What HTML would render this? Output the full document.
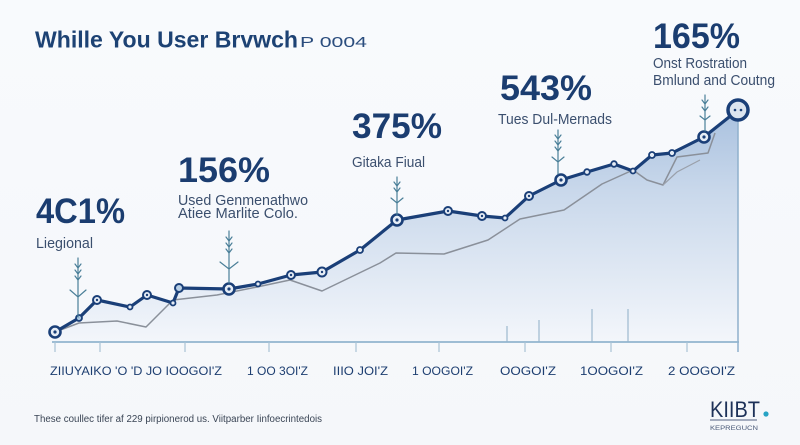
<!DOCTYPE html>
<html>
<head>
<meta charset="utf-8">
<style>
html,body{margin:0;padding:0;background:#f7f9fc;}
svg{display:block;}
text{font-family:"Liberation Sans",sans-serif;}
</style>
</head>
<body>
<svg width="800" height="445" viewBox="0 0 800 445" xmlns="http://www.w3.org/2000/svg">
<defs>
  <linearGradient id="fillg" gradientUnits="userSpaceOnUse" x1="0" y1="110" x2="0" y2="342">
    <stop offset="0" stop-color="#a9c1df"/>
    <stop offset="0.35" stop-color="#c9d8eb"/>
    <stop offset="1" stop-color="#f3f6fb"/>
  </linearGradient>
  <linearGradient id="bg" x1="0" y1="0" x2="0" y2="1">
    <stop offset="0" stop-color="#f8fafd"/>
    <stop offset="1" stop-color="#f5f7fa"/>
  </linearGradient>
</defs>
<rect width="800" height="445" fill="url(#bg)"/>

<!-- Title -->
<text x="35" y="47.5" font-size="23.5" font-weight="bold" fill="#1d4274" textLength="263" lengthAdjust="spacingAndGlyphs">Whille You User Brvwch</text>
<text x="300" y="47" font-size="15" fill="#2b4d7e" textLength="67" lengthAdjust="spacingAndGlyphs">P 0004</text>

<!-- Area fill -->
<path d="M55,332 L79,318 L97,300 L130,307 L147,295 L173,303 L179,288 L229,289 L258,284 L291,275 L322,272 L360,250 L397,220 L448,211 L482,216 L505,218 L529,196 L561,180 L587,172 L614,164 L633,171 L652,155 L672,153 L704,137 L738,110 L738,342 L55,342 Z" fill="url(#fillg)"/>

<!-- right edge line -->
<line x1="738" y1="110" x2="738" y2="352" stroke="#8fb0cc" stroke-width="1.5"/>

<!-- vertical small bars -->
<g stroke="#9db9ce" stroke-width="1.2">
  <line x1="507" y1="326" x2="507" y2="342"/>
  <line x1="539" y1="320" x2="539" y2="342"/>
  <line x1="592" y1="309" x2="592" y2="342"/>
  <line x1="628" y1="309" x2="628" y2="342"/>
</g>

<!-- Axis -->
<line x1="52" y1="342" x2="739" y2="342" stroke="#92b5cf" stroke-width="1.8"/>
<g stroke="#a9c3d6" stroke-width="1.2">
  <line x1="55" y1="342" x2="55" y2="352"/>
  <line x1="100" y1="342" x2="100" y2="352"/>
  <line x1="185" y1="342" x2="185" y2="352"/>
  <line x1="269" y1="342" x2="269" y2="352"/>
  <line x1="356" y1="342" x2="356" y2="352"/>
  <line x1="439" y1="342" x2="439" y2="352"/>
  <line x1="525" y1="342" x2="525" y2="352"/>
  <line x1="611" y1="342" x2="611" y2="352"/>
  <line x1="687" y1="342" x2="687" y2="352"/>
</g>

<!-- Gray line -->
<polyline fill="none" stroke="#8a909a" stroke-width="1.5" stroke-linejoin="round"
 points="55,332 79,323 117,321 146,327 173,300 217,295 257,287 290,280 322,291 380,263 396,253 444,254 488,240 520,219 564,210 602,184 633,170 647,180 663,185 677,157 708,153 715,133"/>
<polyline fill="none" stroke="#9aa0aa" stroke-width="1.2" points="663,185 677,172 700,160"/>

<!-- Main line -->
<polyline fill="none" stroke="#1a3f78" stroke-width="3.2" stroke-linejoin="round" stroke-linecap="round"
 points="55,332 79,318 97,300 130,307 147,295 173,303 179,288 229,289 258,284 291,275 322,272 360,250 397,220 448,211 482,216 505,218 529,196 561,180 587,172 614,164 633,171 652,155 672,153 704,137 738,110"/>

<!-- Markers -->
<g stroke="#1a3f78" fill="#e6edf6">
  <!-- big -->
  <circle cx="55" cy="332" r="5.5" stroke-width="2.6"/>
  <circle cx="229" cy="289" r="5.5" stroke-width="2.6"/>
  <circle cx="397" cy="220" r="5.5" stroke-width="2.6"/>
  <circle cx="561" cy="180" r="5.5" stroke-width="2.6"/>
  <circle cx="704" cy="137" r="5.5" stroke-width="2.6"/>
  <!-- medium -->
  <circle cx="97" cy="300" r="4" stroke-width="2"/>
  <circle cx="147" cy="295" r="4" stroke-width="2"/>
  <circle cx="179" cy="288" r="4" stroke-width="2" fill="#b9d0e6"/>
  <circle cx="291" cy="275" r="4" stroke-width="2"/>
  <circle cx="322" cy="272" r="4.5" stroke-width="2"/>
  <circle cx="448" cy="211" r="4" stroke-width="2"/>
  <circle cx="482" cy="216" r="4" stroke-width="2"/>
  <circle cx="529" cy="196" r="4" stroke-width="2"/>
  <!-- small -->
  <circle cx="79" cy="318" r="3" stroke-width="1.8" fill="#a9c6e0"/>
  <circle cx="130" cy="307" r="2.5" stroke-width="1.8"/>
  <circle cx="173" cy="303" r="2.5" stroke-width="1.8"/>
  <circle cx="258" cy="284" r="2.5" stroke-width="1.8"/>
  <circle cx="360" cy="250" r="3" stroke-width="1.8"/>
  <circle cx="505" cy="218" r="2.5" stroke-width="1.8"/>
  <circle cx="587" cy="172" r="2.8" stroke-width="1.8"/>
  <circle cx="614" cy="164" r="2.8" stroke-width="1.8"/>
  <circle cx="633" cy="171" r="2.5" stroke-width="1.8"/>
  <circle cx="652" cy="155" r="3" stroke-width="1.8"/>
  <circle cx="672" cy="153" r="3" stroke-width="1.8"/>
  <!-- peak -->
  <circle cx="738" cy="110" r="10" stroke-width="3.5" fill="#dbe4ef"/>
</g>
<g fill="#1a3f78">
  <circle cx="55" cy="332" r="1.6"/>
  <circle cx="229" cy="289" r="1.6"/>
  <circle cx="397" cy="220" r="1.6"/>
  <circle cx="561" cy="180" r="1.6"/>
  <circle cx="704" cy="137" r="1.6"/>
  <circle cx="97" cy="300" r="1.2"/>
  <circle cx="147" cy="295" r="1.2"/>
  <circle cx="291" cy="275" r="1.2"/>
  <circle cx="322" cy="272" r="1.2"/>
  <circle cx="448" cy="211" r="1.2"/>
  <circle cx="482" cy="216" r="1.2"/>
  <circle cx="529" cy="196" r="1.2"/>
  <circle cx="735" cy="110" r="1.3"/>
  <circle cx="741" cy="110" r="1.3"/>
</g>

<!-- Arrows -->
<g stroke="#4a7f98" stroke-width="1.2" fill="none" stroke-linecap="round">
  <!-- A1 x78 258-318 -->
  <line x1="78" y1="258" x2="78" y2="317"/>
  <polyline points="75,264 78,268 81,264"/>
  <polyline points="75,270 78,274 81,270"/>
  <polyline points="75,276 78,280 81,276"/>
  <polyline points="70,290 78,297 86,290"/>
  <!-- A2 x229 231-284 -->
  <line x1="229" y1="231" x2="229" y2="283"/>
  <polyline points="226,237 229,241 232,237"/>
  <polyline points="226,243 229,247 232,243"/>
  <polyline points="226,249 229,253 232,249"/>
  <polyline points="220,262 229,269 238,262"/>
  <!-- A3 x397 177-217 -->
  <line x1="397" y1="177" x2="397" y2="215"/>
  <polyline points="394,182 397,186 400,182"/>
  <polyline points="394,188 397,192 400,188"/>
  <polyline points="391,198 397,203 403,198"/>
  <!-- A4 x558 130-175 -->
  <line x1="558" y1="130" x2="558" y2="174"/>
  <polyline points="555,135 558,139 561,135"/>
  <polyline points="555,141 558,145 561,141"/>
  <polyline points="555,147 558,151 561,147"/>
  <polyline points="552,157 558,162 564,157"/>
  <!-- A5 x705 95-131 -->
  <line x1="705" y1="95" x2="705" y2="131"/>
  <polyline points="702,100 705,104 708,100"/>
  <polyline points="702,107 705,111 708,107"/>
  <polyline points="700,116 705,120 710,116"/>
</g>

<!-- Percent labels -->
<g font-weight="bold" font-size="35" fill="#1b3d70">
  <text x="36" y="223" textLength="89" lengthAdjust="spacingAndGlyphs">4C1%</text>
  <text x="178" y="182" textLength="92" lengthAdjust="spacingAndGlyphs">156%</text>
  <text x="352" y="138" textLength="90" lengthAdjust="spacingAndGlyphs">375%</text>
  <text x="500" y="100" textLength="92" lengthAdjust="spacingAndGlyphs">543%</text>
  <text x="653" y="48" textLength="87" lengthAdjust="spacingAndGlyphs">165%</text>
</g>

<!-- Sub labels -->
<g font-size="14.5" fill="#3b4f6e">
  <text x="36" y="248" textLength="57" lengthAdjust="spacingAndGlyphs">Liegional</text>
  <text x="178" y="205" textLength="130" lengthAdjust="spacingAndGlyphs">Used Genmenathwo</text>
  <text x="178" y="218" textLength="120" lengthAdjust="spacingAndGlyphs">Atiee Marlite Colo.</text>
  <text x="352" y="167" textLength="73" lengthAdjust="spacingAndGlyphs">Gitaka Fiual</text>
  <text x="498" y="124" textLength="114" lengthAdjust="spacingAndGlyphs">Tues Dul-Mernads</text>
  <text x="653" y="68" textLength="94" lengthAdjust="spacingAndGlyphs">Onst Rostration</text>
  <text x="653" y="85" textLength="122" lengthAdjust="spacingAndGlyphs">Bmlund and Coutng</text>
</g>

<!-- Tick labels -->
<g font-size="12" fill="#1d3e70">
  <text x="50" y="375" textLength="172" lengthAdjust="spacingAndGlyphs">ZIIUYAIKO 'O 'D JO IOOGOI'Z</text>
  <text x="247" y="375" textLength="61" lengthAdjust="spacingAndGlyphs">1 OO 3OI'Z</text>
  <text x="333" y="375" textLength="55" lengthAdjust="spacingAndGlyphs">IIIO JOI'Z</text>
  <text x="412" y="375" textLength="61" lengthAdjust="spacingAndGlyphs">1 OOGOI'Z</text>
  <text x="500" y="375" textLength="56" lengthAdjust="spacingAndGlyphs">OOGOI'Z</text>
  <text x="580" y="375" textLength="63" lengthAdjust="spacingAndGlyphs">1OOGOI'Z</text>
  <text x="668" y="375" textLength="67" lengthAdjust="spacingAndGlyphs">2 OOGOI'Z</text>
</g>

<!-- Footer -->
<text x="34" y="422" font-size="10" fill="#3a4555" textLength="288" lengthAdjust="spacingAndGlyphs">These coullec tifer af 229 pirpionerod us. Viitparber  Iinfoecrintedois</text>

<!-- Logo -->
<text x="710" y="417" font-size="22" fill="#1d3158" textLength="50" lengthAdjust="spacingAndGlyphs">KIIBT</text>
<line x1="710" y1="420" x2="757" y2="420" stroke="#1d3158" stroke-width="0.8"/>
<circle cx="766" cy="414" r="2.6" fill="#27a3c4"/>
<text x="710" y="430" font-size="6" fill="#4a5a78" textLength="48" lengthAdjust="spacingAndGlyphs">KEPREGUCN</text>
</svg>
</body>
</html>
